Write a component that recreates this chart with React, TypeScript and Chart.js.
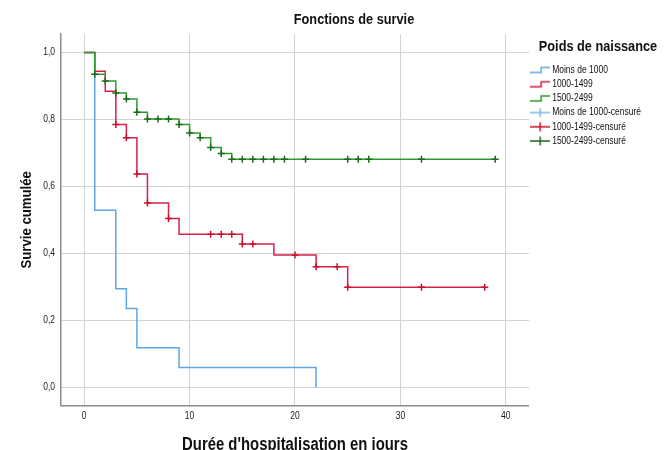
import React, { useEffect, useRef } from 'react';
import { Chart, registerables } from 'chart.js';

Chart.register(...registerables);
Chart.defaults.font.family = "'Liberation Sans', Arial, sans-serif";

// ---- Data ----
const chartTitle = 'Fonctions de survie';
const legendTitle = 'Poids de naissance';
const xTitle = "Durée d'hospitalisation en jours";
const yTitle = 'Survie cumulée';

const seriesNames = ['Moins de 1000', '1000-1499', '1500-2499'];
const censorNames = ['Moins de 1000-censuré', '1000-1499-censuré', '1500-2499-censuré'];

const xTickValues = [0, 10, 20, 30, 40];
const yTickValues = [0, 0.2, 0.4, 0.6, 0.8, 1.0];

const blueTimes = [0, 1, 3, 4, 5, 9, 22];
const blueSurv = [1, 0.529, 0.294, 0.235, 0.118, 0.059, 0];

const redTimes = [0, 1, 2, 3, 4, 5, 6, 8, 9, 15, 18, 22, 25, 38];
const redSurv = [1, 0.944, 0.884, 0.785, 0.745, 0.637, 0.55, 0.504, 0.457, 0.428, 0.395, 0.36, 0.2985, 0.2985];

const greenTimes = [0, 1, 2, 3, 4, 5, 6, 9, 10, 11, 12, 13, 14, 39];
const greenSurv = [1, 0.935, 0.915, 0.879, 0.861, 0.821, 0.801, 0.785, 0.759, 0.745, 0.716, 0.698, 0.681, 0.681];

const blueCensorTimes: number[] = [];
const blueCensorSurv: number[] = [];

const redCensorTimes = [3, 4, 5, 6, 8, 12, 13, 14, 15, 16, 20, 22, 24, 25, 32, 38];
const redCensorSurv = [0.785, 0.745, 0.637, 0.55, 0.504, 0.457, 0.457, 0.457, 0.428, 0.428, 0.395, 0.36, 0.36, 0.2985, 0.2985, 0.2985];

const greenCensorTimes = [1, 2, 3, 4, 5, 6, 7, 8, 9, 10, 11, 12, 13, 14, 15, 16, 17, 18, 19, 21, 25, 26, 27, 32, 39];
const greenCensorSurv = [0.935, 0.915, 0.879, 0.861, 0.821, 0.801, 0.801, 0.801, 0.785, 0.759, 0.745, 0.716, 0.698,
  0.681, 0.681, 0.681, 0.681, 0.681, 0.681, 0.681, 0.681, 0.681, 0.681, 0.681, 0.681];

// ---- Styles ----
const lineColors = ['#5fa6e4', '#d6224b', '#2f9a2f'];
const censorColors = ['#7ab8ee', '#c8102e', '#1d6a1d'];

const toXY = (xs: number[], ys: number[]) => xs.map((x, i) => ({ x, y: ys[i] }));

function stepIcon(color: string) {
  const c = document.createElement('canvas');
  c.width = 20; c.height = 9;
  const g = c.getContext('2d')!;
  g.strokeStyle = color; g.lineWidth = 1.5;
  g.beginPath(); g.moveTo(0, 7); g.lineTo(11, 7); g.lineTo(11, 2); g.lineTo(20, 2); g.stroke();
  return c;
}
function plusIcon(color: string) {
  const c = document.createElement('canvas');
  c.width = 20; c.height = 10;
  const g = c.getContext('2d')!;
  g.strokeStyle = color; g.lineWidth = 1.5;
  g.beginPath(); g.moveTo(0, 5); g.lineTo(20, 5); g.moveTo(10, 0.5); g.lineTo(10, 9.5); g.stroke();
  return c;
}

export default function App() {
  const ref = useRef<HTMLCanvasElement | null>(null);

  useEffect(() => {
    document.body.style.margin = '0';
    const canvas = ref.current!;
    const ctx = canvas.getContext('2d')!;
    // narrow-font emulation: condense all text horizontally
    const SX = 0.85;
    const origMeasure = ctx.measureText.bind(ctx);
    const origFill = ctx.fillText.bind(ctx);
    (ctx as any).measureText = (t: string) => {
      const m = origMeasure(t);
      return {
        width: m.width * SX,
        actualBoundingBoxAscent: m.actualBoundingBoxAscent,
        actualBoundingBoxDescent: m.actualBoundingBoxDescent,
        actualBoundingBoxLeft: m.actualBoundingBoxLeft * SX,
        actualBoundingBoxRight: m.actualBoundingBoxRight * SX,
        fontBoundingBoxAscent: m.fontBoundingBoxAscent,
        fontBoundingBoxDescent: m.fontBoundingBoxDescent,
      };
    };
    (ctx as any).fillText = (t: string, x: number, y: number, mw?: number) => {
      const w = origMeasure(t).width * SX;
      if (w <= 0) return;
      origFill(t, x, y, mw !== undefined && mw !== null ? Math.min(mw, w) : w);
    };

    const icons = [
      ...lineColors.map(stepIcon),
      ...censorColors.map(plusIcon),
    ];
    const legendTexts = [...seriesNames, ...censorNames];

    const curveData = [toXY(blueTimes, blueSurv), toXY(redTimes, redSurv), toXY(greenTimes, greenSurv)];
    const censorData = [
      toXY(blueCensorTimes, blueCensorSurv),
      toXY(redCensorTimes, redCensorSurv),
      toXY(greenCensorTimes, greenCensorSurv),
    ];

    // SPSS centres the chart title over plot + legend, and the legend title over the whole legend column
    const titleShift = {
      id: 'titleShift',
      afterLayout(chart: any) {
        const t = chart.titleBlock;
        if (t) {
          t.left = chart.chartArea.left;
          t.right = chart.width - 17;
        }
        const lg = chart.legend;
        if (lg) {
          lg.width = 138;
          lg.right = chart.width;
        }
      },
    };

    const chart = new Chart(ctx, {
      type: 'line',
      data: {
        datasets: [
          ...curveData.map((d, i) => ({
            label: seriesNames[i],
            data: d,
            borderColor: lineColors[i],
            borderWidth: 1.5,
            stepped: true as const,
            pointRadius: 0,
            fill: false,
            order: 10 - i,
          })),
          ...censorData.map((d, i) => ({
            label: censorNames[i],
            data: d,
            showLine: false,
            pointStyle: 'cross' as const,
            pointRadius: 3.5,
            pointBorderWidth: 1.5,
            pointBorderColor: censorColors[i],
            pointBackgroundColor: censorColors[i],
            borderColor: censorColors[i],
            order: 3 - i,
          })),
        ],
      },
      options: {
        responsive: false,
        animation: false,
        events: [],
        layout: { padding: { left: 0, right: 13, top: 0, bottom: 0 } },
        plugins: {
          title: {
            display: true,
            text: chartTitle,
            color: '#111',
            font: { size: 15, weight: 'bold' },
            padding: { top: 11, bottom: 5 },
          },
          legend: {
            position: 'right',
            align: 'start',
            fullSize: false,
            title: {
              display: true,
              text: legendTitle,
              color: '#111',
              position: 'center',
              font: { size: 15, weight: 'bold' },
              padding: { top: 5.5, bottom: 3.3 },
            },
            labels: {
              usePointStyle: true,
              pointStyleWidth: 14,
              padding: 4.2,
              color: '#222',
              font: { size: 10 },
              generateLabels: () =>
                legendTexts.map((text, i) => ({
                  text,
                  pointStyle: icons[i] as any,
                  fillStyle: 'rgba(0,0,0,0)',
                  strokeStyle: 'rgba(0,0,0,0)',
                  lineWidth: 0,
                  hidden: false,
                  datasetIndex: i,
                })),
            },
          },
          tooltip: { enabled: false },
        },
        scales: {
          x: {
            type: 'linear',
            min: -2.2,
            max: 42.2,
            afterBuildTicks: (scale: any) => {
              scale.ticks = xTickValues.map((v) => ({ value: v }));
            },
            ticks: {
              color: '#222',
              font: { size: 10 },
              padding: 5,
              callback: (v: any) => String(v),
            },
            grid: { color: '#d3d3d3', lineWidth: 1, drawTicks: false },
            border: { color: '#8c8c8c', width: 1.5 },
            title: {
              display: true,
              text: xTitle,
              color: '#111',
              font: { size: 17.5, weight: 'bold', lineHeight: 0.8 },
              padding: { top: 10.3, bottom: -2 },
            },
          },
          y: {
            type: 'linear',
            min: -0.055,
            max: 1.055,
            afterBuildTicks: (scale: any) => {
              scale.ticks = yTickValues.map((v) => ({ value: v }));
            },
            ticks: {
              color: '#222',
              font: { size: 10 },
              padding: 6,
              callback: (v: any) => Number(v).toFixed(1).replace('.', ','),
            },
            grid: { color: '#d3d3d3', lineWidth: 1, drawTicks: false },
            border: { color: '#8c8c8c', width: 1.5 },
            title: {
              display: true,
              text: yTitle,
              color: '#111',
              font: { size: 15.5, weight: 'bold' },
              padding: { top: 17.7, bottom: 0.9 },
            },
          },
        },
      } as any,
      plugins: [titleShift],
    });

    return () => chart.destroy();
  }, []);

  return (
    <div style={{ width: 664, height: 450 }}>
      <canvas ref={ref} width={664} height={450} style={{ display: 'block' }} />
    </div>
  );
}
